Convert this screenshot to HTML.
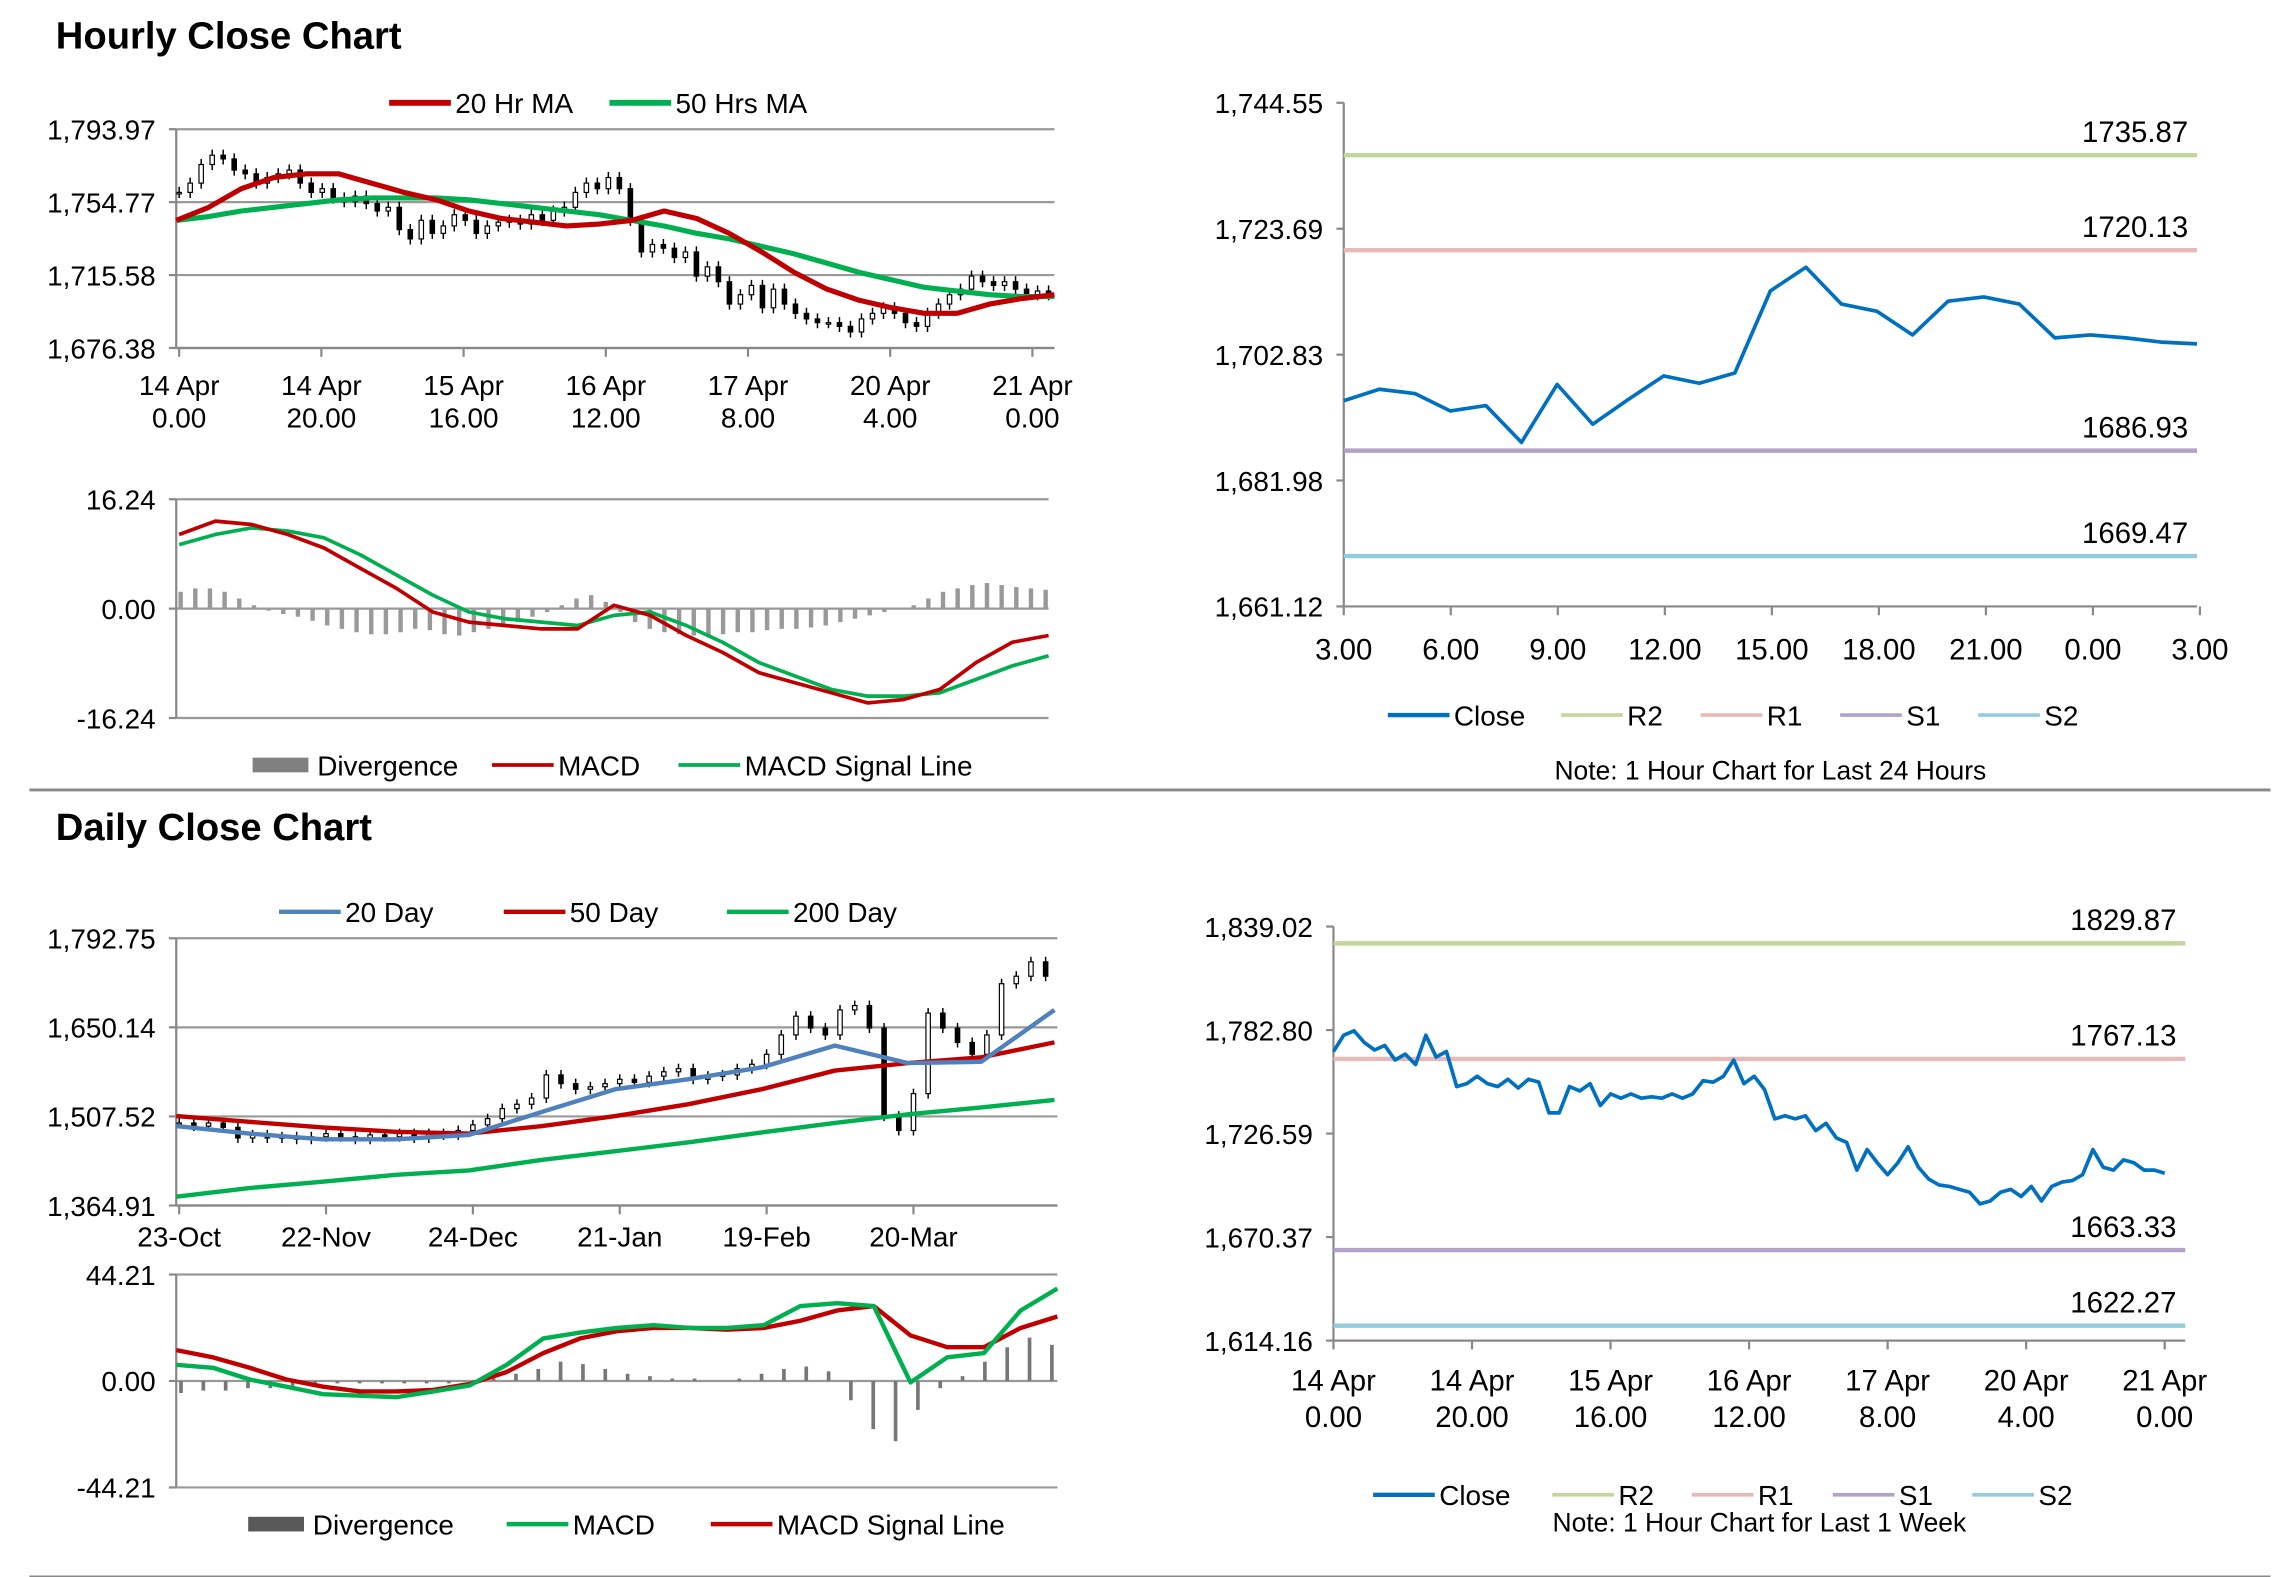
<!DOCTYPE html>
<html><head><meta charset="utf-8"><style>
html,body{margin:0;padding:0;background:#fff;width:2291px;height:1577px;overflow:hidden}
svg{display:block}
text{font-family:"Liberation Sans Narrow","Liberation Sans",sans-serif;fill:#000}
.t{font-family:"Liberation Sans",sans-serif;font-weight:bold}
</style></head><body>
<svg id="root" width="2291" height="1577" viewBox="0 0 1560 1074" preserveAspectRatio="none" xmlns="http://www.w3.org/2000/svg">
<text class="t" x="38" y="33" font-size="26">Hourly Close Chart</text>
<text class="t" x="38" y="572" font-size="26">Daily Close Chart</text>
<line x1="20" y1="538" x2="1546" y2="538" stroke="#888" stroke-width="2"/>
<line x1="20" y1="1074" x2="1546" y2="1074" stroke="#888" stroke-width="2"/>
</svg>
<script>
// ---------- DATA ----------
const hCloses=[1760,1765,1775,1780,1778,1772,1770,1765,1768,1770,1772,1765,1760,1762,1757,1755,1758,1754,1750,1752,1740,1735,1745,1738,1742,1748,1745,1738,1742,1744,1745,1743,1748,1745,1750,1752,1760,1765,1762,1768,1762,1745,1728,1732,1730,1725,1728,1715,1720,1712,1700,1705,1710,1698,1708,1700,1695,1692,1690,1690,1688,1685,1692,1695,1698,1695,1690,1688,1695,1700,1705,1708,1715,1712,1710,1712,1708,1705,1707,1705];
const hMA20=[1745,1752,1762,1768,1770,1770,1765,1760,1756,1750,1746,1744,1742,1743,1745,1750,1746,1738,1728,1717,1708,1702,1698,1695,1695,1700,1703,1705];
const hMA50=[1745,1747,1750,1752,1754,1756,1757,1757,1757,1756,1754,1752,1750,1748,1745,1742,1738,1735,1731,1727,1722,1717,1713,1709,1707,1705,1704,1704];
const hTicks=["14 Apr|0.00","14 Apr|20.00","15 Apr|16.00","16 Apr|12.00","17 Apr|8.00","20 Apr|4.00","21 Apr|0.00"];
const hYTicks=[1676.38,1715.58,1754.77,1793.97];
const hMacd=[11,13,12.5,11,9,6,3,-0.5,-2,-2.5,-3,-3,0.5,-1,-4,-6.5,-9.5,-11,-12.5,-14,-13.5,-12,-8,-5,-4];
const hSignal=[9.5,11,12,11.5,10.5,8,5,2,-0.5,-1.5,-2,-2.5,-1,-0.5,-2.5,-5,-8,-10,-12,-13,-13,-12.5,-10.5,-8.5,-7];
const hDiv=[2.5,3,3,2.5,1.5,0.5,-0.3,-0.8,-1.2,-1.8,-2.5,-3,-3.5,-3.8,-3.8,-3.5,-3,-3.2,-3.8,-4,-3.5,-3,-2.5,-2,-1.2,-0.5,0.5,1.5,2,1,-0.5,-2,-3,-3.5,-3.8,-4,-4,-3.8,-3.5,-3.5,-3.2,-3,-3,-2.8,-2.5,-2,-1.5,-1,-0.5,0,0.5,1.5,2.5,3,3.5,3.8,3.5,3.2,3,2.8];
const hMacdTicks=[-16.24,0.00,16.24];

const dayClose=[1695.2,1697.1,1696.4,1693.5,1694.4,1688.3,1697.9,1691.3,1695.4,1699.3,1698.1,1699.8,1713.4,1717.3,1711.2,1710.0,1706.1,1711.7,1712.4,1711.2,1705.6,1706.1,1705.6,1704.9,1704.6];
const dayHours=["3.00","6.00","9.00","12.00","15.00","18.00","21.00","0.00","3.00"];
const dayYTicks=[1661.12,1681.98,1702.83,1723.69,1744.55];
const dayLevels=[1735.87,1720.13,1686.93,1669.47];
const levelNames=["R2","R1","S1","S2"];

const dCloses=[1497,1492,1497,1490,1473,1478,1473,1475,1471,1475,1480,1475,1471,1478,1475,1480,1473,1480,1478,1485,1494,1504,1520,1527,1537,1574,1560,1551,1555,1560,1567,1562,1572,1579,1584,1567,1572,1574,1584,1591,1607,1638,1668,1649,1638,1678,1685,1649,1508,1485,1544,1673,1649,1626,1607,1638,1720,1732,1755,1732];
const d20=[1492,1480,1471,1471,1478,1515,1551,1567,1586,1621,1593,1595,1678];
const d50=[1508,1499,1490,1483,1480,1492,1508,1527,1551,1581,1593,1602,1626];
const d200=[1379,1393,1403,1414,1421,1438,1452,1466,1482,1497,1511,1522,1534];
const dTicks=["23-Oct","22-Nov","24-Dec","21-Jan","19-Feb","20-Mar"];
const dYTicks=[1364.91,1507.52,1650.14,1792.75];
const dMacd=[6.7,5.5,0.6,-2.4,-5.5,-6.1,-6.7,-4.3,-1.8,6.7,17.7,20.1,22,23.2,22,22,23.2,31.1,32.3,31.1,-0.6,9.8,11.6,29.3,38.4];
const dSignal=[12.8,9.8,5.5,0.6,-2.4,-4.3,-4.3,-3.7,-1.2,3.7,11.6,17.7,20.7,22,22,21.3,22,25,29.3,31.1,18.9,14,14,22,26.8];
const dDiv=[-5,-4,-4,-3,-3,-2,-2,-1,-1,-1,-1,-1,-1,0,1,3,5,8,7,5,3,2,1,1,0,1,3,5,6,4,-8,-20,-25,-12,-3,2,8,14,18,15];
const dMacdTicks=[-44.21,0.00,44.21];

const wkClose=[1771.2,1780.0,1782.4,1776.0,1772.0,1774.4,1766.5,1769.7,1764.1,1780.0,1768.1,1771.2,1752.1,1753.7,1757.7,1753.7,1752.1,1756.1,1751.3,1756.1,1754.5,1737.8,1737.8,1752.1,1749.7,1753.7,1741.8,1748.1,1745.8,1748.1,1745.8,1746.5,1745.8,1748.1,1745.8,1748.1,1755.3,1754.5,1757.7,1766.5,1753.7,1757.7,1750.5,1734.6,1736.2,1734.6,1736.2,1728.2,1732.2,1724.2,1721.8,1706.7,1717.9,1710.7,1704.3,1710.7,1719.4,1708.3,1701.9,1698.7,1697.9,1696.3,1694.7,1688.4,1690.0,1694.7,1696.3,1692.4,1697.9,1690.0,1697.9,1700.3,1701.1,1704.3,1717.9,1708.3,1706.7,1712.3,1710.7,1706.7,1706.7,1705.1];
const wkTicks=["14 Apr|0.00","14 Apr|20.00","15 Apr|16.00","16 Apr|12.00","17 Apr|8.00","20 Apr|4.00","21 Apr|0.00"];
const wkYTicks=[1614.16,1670.37,1726.59,1782.80,1839.02];
const wkLevels=[1829.87,1767.13,1663.33,1622.27];

// ---------- HELPERS ----------
const NS="http://www.w3.org/2000/svg";
const root=document.getElementById('root');
function mk(tag,a,parent){const e=document.createElementNS(NS,tag);for(const k in a)e.setAttribute(k,a[k]);(parent||root).appendChild(e);return e;}
function lin(d0,d1,r0,r1){return v=>r0+(v-d0)*(r1-r0)/(d1-d0);}
function fmt(v){return v.toLocaleString('en-US',{minimumFractionDigits:2,maximumFractionDigits:2});}
function grp(name){const g=mk('g',{});


return g;}
function txt(g,x,y,s,size,anchor,name){const t=mk('text',{x:x,y:y,'font-size':size,'text-anchor':anchor||'start'},g);t.textContent=s;


return t;}
function poly(g,pts,color,w,name){const p=mk('polyline',{points:pts.map(q=>q[0].toFixed(1)+','+q[1].toFixed(1)).join(' '),fill:'none',stroke:color,'stroke-width':w,'stroke-linejoin':'round'},g);


return p;}
function ln(g,x1,y1,x2,y2,c,w,name){const l=mk('line',{x1:x1,y1:y1,x2:x2,y2:y2,stroke:c,'stroke-width':w},g);


return l;}
function legend(g,x,y,color,w,label,name){const it=mk('g',{},g);


if(w>6){mk('rect',{x:x,y:y-5,width:38,height:10,fill:color},it);}else{ln(it,x,y,x+42,y,color,w,name+'-swatch');}
txt(it,x+(w>6?44:45),y+7,label,19,'start',name+'-label');}
function yAxis(g,ys,ticks,x0,x1,grid,name,fmtfn){ticks.forEach(v=>{const y=ys(v);if(grid)ln(g,x0,y,x1,y,'#999',1.5,name+'-gridline');ln(g,x0-5,y,x0,y,'#888',1.5,name+'-tick');txt(g,x0-14,y+7,fmtfn(v),19,'end',name+'-label');});}

// ---------- HOURLY CANDLE CHART ----------
(function(){const g=grp('hourly-price-chart');const X0=120,X1=718,Y0=237,Y1=88;
const ys=lin(1676.38,1793.97,Y0,Y1);
yAxis(g,ys,hYTicks,X0,X1,true,'hourly-y-axis',fmt);
ln(g,X0,Y1,X0,Y0,'#888',1.5,'hourly-y-axis-line');
const tx=lin(0,hTicks.length-1,122,703);
hTicks.forEach((s,i)=>{const x=tx(i);ln(g,x,Y0,x,Y0+6,'#888',1.5,'hourly-x-tick');const p=s.split('|');txt(g,x,Y0+32,p[0],19,'middle','hourly-x-label');txt(g,x,Y0+54,p[1],19,'middle','hourly-x-label');});
const xs=lin(0,hCloses.length-1,122,714);
hCloses.forEach((c,i)=>{const o=i?hCloses[i-1]:c;const x=xs(i);const hi=Math.max(o,c)+3,lo=Math.min(o,c)-3;
ln(g,x,ys(hi),x,ys(lo),'#000',1,'hourly-candle-wick');
const r=mk('rect',{x:x-1.5,y:ys(Math.max(o,c)),width:3,height:Math.max(1,Math.abs(ys(o)-ys(c))),fill:c>=o?'#fff':'#000',stroke:'#000','stroke-width':0.8},g);

});
const mx=lin(0,hMA20.length-1,120,718);
poly(g,hMA50.map((v,i)=>[mx(i),ys(v)]),'#00b050',3.5,'hourly-50hr-ma-line');
poly(g,hMA20.map((v,i)=>[mx(i),ys(v)]),'#c00000',3.5,'hourly-20hr-ma-line');
legend(g,265,70,'#c00000',4,'20 Hr MA','legend-20hr-ma');
legend(g,415,70,'#00b050',4,'50 Hrs MA','legend-50hr-ma');
ln(g,X0,Y0,X1,Y0,'#888',1.5,'hourly-x-axis-line');})();

// ---------- HOURLY MACD ----------
(function(){const g=grp('hourly-macd-chart');const X0=120,X1=714,Y0=489,Y1=340;
const ys=lin(-16.24,16.24,Y0,Y1);
yAxis(g,ys,hMacdTicks,X0,X1,true,'hourly-macd-y-axis',v=>v.toFixed(2));
ln(g,X0,Y1,X0,Y0,'#888',1.5,'hourly-macd-y-axis-line');
const bx=lin(0,hDiv.length-1,123,712);
hDiv.forEach((v,i)=>{const y=ys(v),z=ys(0);const r=mk('rect',{x:bx(i)-1.5,y:Math.min(y,z),width:3,height:Math.abs(y-z),fill:'#999'},g);

});
const lx=lin(0,hMacd.length-1,122,714);
poly(g,hSignal.map((v,i)=>[lx(i),ys(v)]),'#00b050',2.5,'hourly-macd-signal-line');
poly(g,hMacd.map((v,i)=>[lx(i),ys(v)]),'#c00000',2.5,'hourly-macd-line');
legend(g,172,521,'#808080',10,'Divergence','legend-divergence');
legend(g,335,521,'#c00000',2.5,'MACD','legend-macd');
legend(g,462,521,'#00b050',2.5,'MACD Signal Line','legend-macd-signal');})();

// ---------- LEVEL CHART HELPER ----------
function levelChart(name,X0,X1,Y0,Y1,ymin,ymax,yt,closes,levels,xLabels,two,legY,note,noteY,legX){
const g=grp(name);const ys=lin(ymin,ymax,Y0,Y1);
yAxis(g,ys,yt,X0,X1,false,name+'-y-axis',fmt);
ln(g,X0,Y1,X0,Y0,'#888',1.5,name+'-y-axis-line');ln(g,X0,Y0,X1,Y0,'#888',1.5,name+'-x-axis-line');
const cols=['#c3d69b','#e6b9b8','#b3a2c7','#93cddd'];
levels.forEach((v,i)=>{ln(g,X0,ys(v),X1,ys(v),cols[i],3,name+'-'+levelNames[i].toLowerCase()+'-line');txt(g,X1-6,ys(v)-9,v.toFixed(2),20,'end',name+'-'+levelNames[i].toLowerCase()+'-label');});
const tx=lin(0,xLabels.length-1,X0,X1-(two?14:-2));
xLabels.forEach((s,i)=>{const x=tx(i);ln(g,x,Y0,x,Y0+6,'#888',1.5,name+'-x-tick');const p=s.split('|');if(p.length>1){txt(g,x,Y0+34,p[0],20,'middle',name+'-x-label');txt(g,x,Y0+59,p[1],20,'middle',name+'-x-label');}else txt(g,x,Y0+36,p[0],20,'middle',name+'-x-label');});
const cx=lin(0,closes.length-1,X0,X1-(two?14:0));
poly(g,closes.map((v,i)=>[cx(i),ys(v)]),'#0070c0',2.5,name+'-close-line');
const lc=['#0070c0'].concat(cols);const ln_=['Close'].concat(levelNames);
lc.forEach((c,i)=>legend(g,legX[i],legY,c,i?2.5:3,ln_[i],name+'-legend-'+ln_[i].toLowerCase()));
txt(g,(X0+X1)/2,noteY,note,18,'middle',name+'-note');
}
levelChart('hourly-levels-chart',915,1496,413,70,1661.12,1744.55,dayYTicks,dayClose,dayLevels,dayHours,false,487,'Note: 1 Hour Chart for Last 24 Hours',531,[945,1063,1158,1253,1347]);
levelChart('weekly-levels-chart',908,1488,913,631,1614.16,1839.02,wkYTicks,wkClose,wkLevels,wkTicks,true,1018,'Note: 1 Hour Chart for Last 1 Week',1043,[935,1057,1152,1248,1343]);

// ---------- DAILY CANDLE CHART ----------
(function(){const g=grp('daily-price-chart');const X0=120,X1=720,Y0=821,Y1=639;
const ys=lin(1364.91,1792.75,Y0,Y1);
yAxis(g,ys,dYTicks,X0,X1,true,'daily-y-axis',fmt);
ln(g,X0,Y1,X0,Y0,'#888',1.5,'daily-y-axis-line');
const tx=lin(0,dTicks.length-1,122,622);
dTicks.forEach((s,i)=>{const x=tx(i);ln(g,x,Y0,x,Y0+6,'#888',1.5,'daily-x-tick');txt(g,x,Y0+28,s,19,'middle','daily-x-label');});
const xs=lin(0,dCloses.length-1,122,712);
dCloses.forEach((c,i)=>{const o=i?dCloses[i-1]:c;const x=xs(i);const hi=Math.max(o,c)+8,lo=Math.min(o,c)-8;
ln(g,x,ys(hi),x,ys(lo),'#000',1,'daily-candle-wick');
const r=mk('rect',{x:x-1.5,y:ys(Math.max(o,c)),width:3,height:Math.max(1,Math.abs(ys(o)-ys(c))),fill:c>=o?'#fff':'#000',stroke:'#000','stroke-width':0.8},g);

});
const mx=lin(0,d20.length-1,120,718);
poly(g,d200.map((v,i)=>[mx(i),ys(v)]),'#00b050',3,'daily-200day-ma-line');
poly(g,d50.map((v,i)=>[mx(i),ys(v)]),'#c00000',3,'daily-50day-ma-line');
poly(g,d20.map((v,i)=>[mx(i),ys(v)]),'#4f81bd',3,'daily-20day-ma-line');
legend(g,190,621,'#4f81bd',3,'20 Day','legend-20-day');
legend(g,343,621,'#c00000',3,'50 Day','legend-50-day');
legend(g,495,621,'#00b050',3,'200 Day','legend-200-day');
ln(g,X0,Y0,X1,Y0,'#888',1.5,'daily-x-axis-line');})();

// ---------- DAILY MACD ----------
(function(){const g=grp('daily-macd-chart');const X0=120,X1=720,Y0=1013,Y1=868;
const ys=lin(-44.21,44.21,Y0,Y1);
yAxis(g,ys,dMacdTicks,X0,X1,true,'daily-macd-y-axis',v=>v.toFixed(2));
ln(g,X0,Y1,X0,Y0,'#888',1.5,'daily-macd-y-axis-line');
const bx=lin(0,dDiv.length-1,123,716);
dDiv.forEach((v,i)=>{const y=ys(v),z=ys(0);const r=mk('rect',{x:bx(i)-1,y:Math.min(y,z),width:2.5,height:Math.abs(y-z),fill:'#777'},g);

});
const lx=lin(0,dMacd.length-1,120,720);
poly(g,dSignal.map((v,i)=>[lx(i),ys(v)]),'#c00000',3,'daily-macd-signal-line');
poly(g,dMacd.map((v,i)=>[lx(i),ys(v)]),'#00b050',3,'daily-macd-line');
legend(g,169,1038,'#595959',10,'Divergence','legend-daily-divergence');
legend(g,345,1038,'#00b050',3,'MACD','legend-daily-macd');
legend(g,484,1038,'#c00000',3,'MACD Signal Line','legend-daily-macd-signal');})();
</script>
</body></html>
